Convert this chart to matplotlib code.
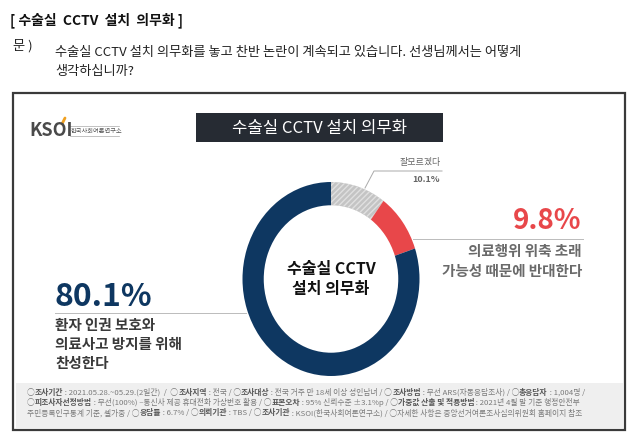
import matplotlib
matplotlib.use('Agg')
import matplotlib.pyplot as plt
from matplotlib.patches import Rectangle

plt.rcParams['font.family'] = ['Noto Sans CJK KR', 'DejaVu Sans']

W, H = 640, 447

# ---- data ----
categories = ['잘모르겠다',
              '의료행위 위축 초래\n가능성 때문에 반대한다',
              '환자 인권 보호와\n의료사고 방지를 위해\n찬성한다']
values = [10.1, 9.8, 80.1]
colors = ['#c4c4c4', '#e8474a', '#0e3761']
center_label = '수술실 CCTV\n설치 의무화'
title = '수술실 CCTV 설치 의무화'
header = '[ 수술실  CCTV  설치  의무화 ]'
question_tag = '문 )'
question = ('수술실 CCTV 설치 의무화를 놓고 찬반 논란이 계속되고 있습니다. 선생님께서는 어떻게\n'
            '생각하십니까?')
footer_lines = [
    [('○', 0), ('조사기간', 1), (' : 2021.05.28.~05.29.(2일간)  /  ○', 0), ('조사지역', 1),
     (' : 전국 / ○', 0), ('조사대상', 1), (' : 전국 거주 만 18세 이상 성인남녀 / ○', 0),
     ('조사방법', 1), (' : 무선 ARS(자동응답조사) / ○', 0), ('총응답자', 1), (' : 1,004명 /', 0)],
    [('○', 0), ('피조사자선정방법', 1), (' : 무선(100%) –통신사 제공 휴대전화 가상번호 활용 / ○', 0),
     ('표본오차', 1), (' : 95% 신뢰수준 ±3.1%p / ○', 0), ('가중값 산출 및 적용방법', 1),
     (' : 2021년 4월 말 기준 행정안전부', 0)],
    [('주민등록인구통계 기준, 셀가중 / ○', 0), ('응답률', 1), (' : 6.7% / ○', 0), ('의뢰기관', 1),
     (' : TBS / ○', 0), ('조사기관', 1), (' : KSOI(한국사회여론연구소) / ○자세한 사항은 중앙선거여론조사심의위원회 홈페이지 참조', 0)],
]

fig = plt.figure(figsize=(6.4, 4.47), dpi=100)
fig.patch.set_facecolor('white')
bg = fig.add_axes([0, 0, 1, 1])
bg.set_xlim(0, W)
bg.set_ylim(H, 0)
bg.axis('off')

# header
bg.text(10, 20, header, fontsize=10, fontweight='bold', color='#111111', va='center', ha='left')
bg.text(13, 46, question_tag, fontsize=9.5, color='#222222', va='center', ha='left')
bg.text(55, 46, question, fontsize=9.5, color='#222222', va='top', ha='left',
        linespacing=1.6, transform=bg.transData)

# frame
bg.add_patch(Rectangle((13, 93), 612, 337, facecolor='white', edgecolor='#3a3a3a', lw=1.6))
bg.add_patch(Rectangle((15.5, 383), 607, 45, facecolor='#efefef', edgecolor='none'))

# title box
bg.add_patch(Rectangle((196, 113), 247, 29, facecolor='#262b33', edgecolor='none'))
bg.text(319.5, 128, title, fontsize=12, color='white', ha='center', va='center')

# logo
bg.text(29, 131, 'KSOI', fontsize=13, fontweight='bold', color='#4a4a4a', ha='left', va='center')
bg.plot([62, 65], [124, 118], color='#f0a020', lw=2, solid_capstyle='round')
bg.text(71, 131, '한국사회여론연구소', fontsize=4.5, color='#555555', ha='left', va='center')
bg.plot([70, 119], [126, 126], color='#aaaaaa', lw=0.5)
bg.plot([70, 119], [136, 136], color='#aaaaaa', lw=0.5)

# donut
cx, cy, Rx, Ry = 331, 279, 88.5, 97
pax = fig.add_axes([(cx - 1.25 * Rx) / W, (H - cy - 1.25 * Ry) / H, 2.5 * Rx / W, 2.5 * Ry / H])
wedges, _ = pax.pie(values, colors=colors, startangle=90, counterclock=False,
                    wedgeprops=dict(width=0.24, linewidth=0))
wedges[0].set_hatch('//////')
wedges[0].set_edgecolor('#e0e0e0')
wedges[0].set_linewidth(0)
pax.set_aspect('auto')
pax.set_xlim(-1.25, 1.25)
pax.set_ylim(-1.25, 1.25)
pax.patch.set_alpha(0)

bg.text(cx, cy, center_label, fontsize=11.5, fontweight='bold', color='#111111',
        ha='center', va='center', linespacing=1.35)

# labels - unknown
bg.plot([365, 374, 442], [188, 171, 171], color='#aaaaaa', lw=0.7)
bg.text(441, 162, categories[0], fontsize=6.5, color='#666666', ha='right', va='center')
bg.text(440, 180, f'{values[0]:.1f}%', fontsize=6.5, fontweight='bold', color='#666666',
        ha='right', va='center')

# labels - oppose
bg.plot([413, 583], [239, 239], color='#bbbbbb', lw=0.7)
bg.text(581, 221, f'{values[1]:.1f}%', fontsize=20, fontweight='bold', color='#e8474a',
        ha='right', va='center')
bg.text(582, 261, categories[1], fontsize=10.5, fontweight='bold', color='#6a6a6a',
        ha='right', va='center', linespacing=1.25)

# labels - support
bg.plot([55, 246], [313, 313], color='#bbbbbb', lw=0.7)
bg.text(54, 297, f'{values[2]:.1f}%', fontsize=23, fontweight='bold', color='#0e3761',
        ha='left', va='center')
bg.text(55, 344, categories[2], fontsize=10.5, fontweight='bold', color='#3a3a3a',
        ha='left', va='center', linespacing=1.25)

# footer
fy = [393, 403, 413]
for y, line in zip(fy, footer_lines):
    prev = None
    for txt, b in line:
        kw = dict(fontsize=5.6, color='#555555' if b else '#7a7a7a',
                  fontweight='bold' if b else 'normal')
        if prev is None:
            prev = bg.text(27, y, txt, ha='left', va='center', **kw)
        else:
            prev = bg.annotate(txt, xy=(1, 0), xycoords=prev, ha='left', va='bottom', **kw)

fig.savefig('out.png', dpi=100)
